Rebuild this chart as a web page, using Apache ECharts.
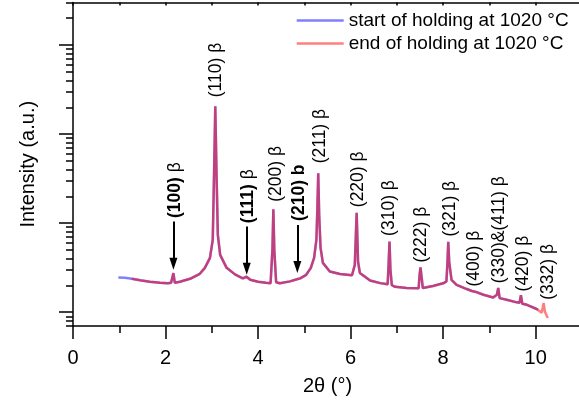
<!DOCTYPE html>
<html>
<head>
<meta charset="utf-8">
<script src="https://cdn.jsdelivr.net/npm/echarts@6/dist/echarts.min.js"></script>
<style>
  html, body { margin: 0; padding: 0; background: #fff; }
  #chart { width: 579px; height: 403px; }
</style>
</head>
<body>
<div id="chart"></div>
<script>
// XRD pattern, 2θ in degrees and intensity (a.u., log scale)

// Part recorded only at the start of holding (low-angle end)
const leadTheta = [0.98, 1.12];
const leadIntensity = [2.45, 2.43];

// Range where both patterns coincide
const commonTheta = [
  1.27, 1.45, 1.66, 1.88, 2.05, 2.12, 2.17, 2.20, 2.31, 2.53,
  2.74, 2.85, 2.96, 3.02, 3.05, 3.075, 3.10, 3.13, 3.18, 3.32,
  3.50, 3.67, 3.75, 3.83, 4.00, 4.17, 4.27, 4.31, 4.33, 4.35,
  4.39, 4.47, 4.69, 4.84, 4.87, 4.91, 5.04, 5.14, 5.21, 5.26,
  5.28, 5.30, 5.32, 5.35, 5.40, 5.55, 5.77, 6.03, 6.09, 6.13,
  6.16, 6.20, 6.42, 6.64, 6.80, 6.82, 6.84, 6.86, 6.89, 6.96,
  7.21, 7.47, 7.49, 7.51, 7.53, 7.56, 7.78, 8.00, 8.07, 8.09,
  8.11, 8.13, 8.18, 8.29, 8.51, 8.62, 8.65, 8.69, 8.87, 9.08,
  9.16, 9.19, 9.22, 9.37, 9.59, 9.65, 9.68, 9.71, 9.81, 10.02
];
const commonIntensity = [
  2.37, 2.28, 2.20, 2.14, 2.12, 2.14, 2.75, 2.14, 2.20, 2.37,
  2.70, 3.15, 4.08, 6.48, 39.4, 205, 39.4, 7.38, 4.40, 3.15,
  2.66, 2.40, 2.50, 2.31, 2.20, 2.14, 2.12, 5.01, 14.3, 5.01,
  2.17, 2.11, 2.22, 2.34, 2.43, 2.40, 2.63, 3.15, 4.08, 6.48,
  14.06, 36.2, 12.4, 5.28, 3.58, 2.86, 2.68, 2.60, 3.40, 13.1,
  3.68, 2.75, 2.27, 2.12, 2.06, 3.40, 6.21, 2.99, 2.01, 1.93,
  1.87, 1.86, 2.63, 3.19, 2.56, 1.87, 1.97, 2.11, 2.22, 3.40,
  6.16, 3.68, 2.31, 2.03, 1.82, 1.73, 1.82, 1.70, 1.57, 1.46,
  1.57, 1.87, 1.44, 1.38, 1.29, 1.28, 1.55, 1.245, 1.21, 1.086
];

// High-angle end of each pattern
const startTailTheta = [10.05];
const startTailIntensity = [1.07];
const endTailTheta = [10.06, 10.13, 10.17, 10.20, 10.26];
const endTailIntensity = [1.066, 0.987, 1.27, 1.01, 0.861];

// Reflection labels: Miller indices, phase, label foot position
const peakHkl = ['(100)', '(110)', '(111)', '(200)', '(210)', '(211)', '(220)',
  '(310)', '(222)', '(321)', '(400)', '(330)&(411)', '(420)', '(332)'];
const peakPhase = ['β', 'β', 'β', 'β', 'b', 'β', 'β', 'β', 'β', 'β', 'β', 'β', 'β', 'β'];
const peakArrowed = [true, false, true, false, true, false, false,
  false, false, false, false, false, false, false];
const labelTheta = [2.204, 3.09, 3.789, 4.381, 4.884, 5.338, 6.166,
  6.836, 7.521, 8.148, 8.673, 9.213, 9.732, 10.272];
const labelIntensity = [11.4, 259, 10.0, 17.4, 10.6, 46.9, 15.1,
  7.19, 3.61, 7.06, 1.945, 2.12, 1.71, 1.38];

// Arrows pointing at weak reflections
const arrowTheta = [2.17, 3.754, 4.848];
const arrowFrom = [10.4, 9.14, 9.55];
const arrowTo = [3.49, 3.07, 3.21];

// Axis tick values
const yMajorTicks = [1, 10, 100, 1000];
const yMinorTicks = [0.7, 0.8, 0.9, 2, 3, 4, 5, 6, 7, 8, 9,
  20, 30, 40, 50, 60, 70, 80, 90, 200, 300, 400, 500, 600, 700, 800, 900, 2000, 3000];

const seriesNames = ['start of holding at 1020 °C', 'end of holding at 1020 °C'];

function pairs(xs, ys) { return xs.map((x, i) => [x, ys[i]]); }

const startData = pairs(leadTheta, leadIntensity)
  .concat(pairs(commonTheta, commonIntensity))
  .concat(pairs(startTailTheta, startTailIntensity));
const endData = pairs(commonTheta, commonIntensity)
  .concat(pairs(endTailTheta, endTailIntensity));

const labelData = labelTheta.map((t, i) => {
  let text;
  if (peakArrowed[i]) {
    text = '{b|' + peakHkl[i] + '} ' + (peakPhase[i] === 'β' ? peakPhase[i] : '{b|' + peakPhase[i] + '}');
  } else {
    text = peakHkl[i] + ' ' + peakPhase[i];
  }
  return { value: [t, labelIntensity[i]], label: { formatter: text } };
});

const arrowData = arrowTheta.map((t, i) => [
  { coord: [t, arrowFrom[i]], symbol: 'none' },
  { coord: [t, arrowTo[i]], symbol: 'triangle', symbolSize: [8, 12] }
]);

const black = '#000';
const axisLine = { show: true, lineStyle: { color: black, width: 1.5 } };
const font = 'Arial, "Liberation Sans", sans-serif';

const chart = echarts.init(document.getElementById('chart'), null, { renderer: 'canvas' });
chart.setOption({
  animation: false,
  backgroundColor: '#fff',
  textStyle: { fontFamily: font, color: black },
  grid: { left: 73, top: 2.5, width: 509, height: 323.5, outerBoundsMode: 'none' },
  legend: {
    data: seriesNames,
    orient: 'vertical',
    left: 291.7,
    top: 4,
    icon: 'rect',
    itemWidth: 47,
    itemHeight: 2.5,
    itemGap: 0,
    selectedMode: false,
    textStyle: { fontSize: 19, color: black, lineHeight: 23, fontFamily: font }
  },
  xAxis: [
    {
      type: 'value', position: 'bottom', min: 0, max: 11, interval: 2,
      axisLine: axisLine,
      axisTick: { show: true, length: 13, lineStyle: { color: black, width: 1.5 } },
      minorTick: { show: true, splitNumber: 2, length: 7, lineStyle: { color: black, width: 1.5 } },
      axisLabel: { fontSize: 20, color: black, margin: 22, showMaxLabel: false, fontFamily: font },
      splitLine: { show: false },
      name: '2θ (°)', nameLocation: 'middle', nameGap: 50,
      nameTextStyle: { fontSize: 20, color: black, fontFamily: font }
    },
    {
      type: 'value', position: 'top', min: 0, max: 11, interval: 1,
      axisLine: axisLine,
      axisTick: { show: true, inside: true, length: 3, lineStyle: { color: black, width: 1.5 } },
      axisLabel: { show: false },
      splitLine: { show: false }
    }
  ],
  yAxis: [
    {
      type: 'log', logBase: 10, min: 0.7, max: 3000, position: 'left',
      axisLine: axisLine,
      axisTick: { show: true, length: 14, customValues: yMajorTicks, lineStyle: { color: black, width: 1.5 } },
      axisLabel: { show: false },
      splitLine: { show: false },
      name: 'Intensity (a.u.)', nameLocation: 'middle', nameGap: 35,
      nameTextStyle: { fontSize: 20, color: black, fontFamily: font }
    },
    {
      type: 'log', logBase: 10, min: 0.7, max: 3000, position: 'left',
      axisLine: { show: false },
      axisTick: { show: true, length: 7, customValues: yMinorTicks, lineStyle: { color: black, width: 1.5 } },
      axisLabel: { show: false },
      splitLine: { show: false }
    }
  ],
  series: [
    {
      name: seriesNames[0], type: 'line', data: startData, symbol: 'none',
      color: 'rgba(0,0,255,0.5)',
      lineStyle: { width: 2.5, color: 'rgba(0,0,255,0.5)' },
      emphasis: { disabled: true }, z: 2
    },
    {
      name: seriesNames[1], type: 'line', data: endData, symbol: 'none',
      color: 'rgba(255,0,0,0.5)',
      lineStyle: { width: 2.5, color: 'rgba(255,0,0,0.5)' },
      emphasis: { disabled: true }, z: 3
    },
    {
      name: 'reflections', type: 'scatter', data: labelData,
      symbolSize: 0, itemStyle: { color: black, opacity: 1 },
      silent: true, z: 5,
      label: {
        show: true, position: 'top', distance: 0, rotate: 90,
        align: 'left', verticalAlign: 'middle', opacity: 1,
        fontSize: 17.5, color: black, fontFamily: font,
        rich: {
          b: { fontWeight: 'bold', fontSize: 17.5, color: black, fontFamily: font }
        }
      },
      emphasis: { disabled: true },
      markLine: {
        silent: true, animation: false,
        symbol: ['none', 'triangle'],
        lineStyle: { color: black, width: 2, type: 'solid' },
        itemStyle: { color: black },
        label: { show: false },
        emphasis: { disabled: true },
        data: arrowData
      }
    }
  ]
});
</script>
</body>
</html>
